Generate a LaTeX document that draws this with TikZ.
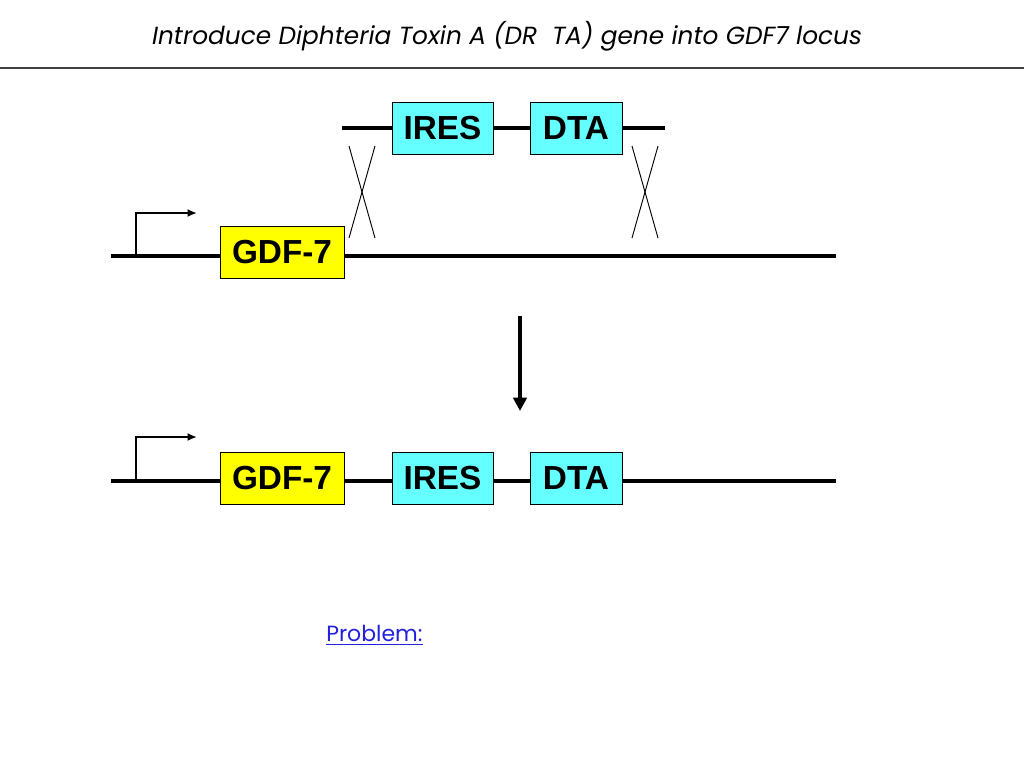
\documentclass[tikz,border=0pt]{standalone}
\usepackage{fontspec}
\setmainfont{Liberation Sans}
\newfontfamily\titlefont{Poppins}
\usetikzlibrary{arrows.meta}
\definecolor{boxcyan}{HTML}{66FFFF}
\definecolor{boxyellow}{HTML}{FFFF00}
\definecolor{linkblue}{HTML}{2222DD}
\tikzset{
  gene/.style={draw=black, line width=0.75pt, inner sep=0pt, minimum height=39pt,
    font=\fontsize{25}{25}\selectfont\bfseries},
  backbone/.style={line width=3pt},
  crossline/.style={line width=0.7pt},
  promoter/.style={line width=1.5pt, -{Latex[length=7pt,width=6pt]}},
}
\begin{document}
\begin{tikzpicture}[x=0.75pt,y=-0.75pt]
\useasboundingbox (0,0) rectangle (1024,768);
% title
\node[font=\titlefont\itshape\fontsize{18.6}{18.6}\selectfont, anchor=center] (title) at (507,36) {Introduce Diphteria Toxin A (DR\ \ TA) gene into GDF7 locus};
\coordinate (rl) at (0,68); \coordinate (rr) at (1024,68);
\draw[line width=1.2pt, black!75] (rl) -- (rr);
% top construct
\node[gene, fill=boxcyan, minimum width=75.75pt] (ires1) at (442.5,128.5) {IRES};
\node[gene, fill=boxcyan, minimum width=69pt] (dta1) at (576,128.5) {DTA};
\coordinate (t1) at (342,128); \coordinate (t2) at (665,128);
\draw[backbone] (t1) -- (t1 -| ires1.west);
\draw[backbone] (t1 -| ires1.east) -- (t1 -| dta1.west);
\draw[backbone] (t1 -| dta1.east) -- (t2);
% crosses
\coordinate (xa1) at (349,146); \coordinate (xa2) at (375,238);
\coordinate (xa3) at (375,146); \coordinate (xa4) at (349,238);
\draw[crossline] (xa1) -- (xa2); \draw[crossline] (xa3) -- (xa4);
\coordinate (xb1) at (632,146); \coordinate (xb2) at (658,238);
\coordinate (xb3) at (658,146); \coordinate (xb4) at (632,238);
\draw[crossline] (xb1) -- (xb2); \draw[crossline] (xb3) -- (xb4);
% middle locus
\node[gene, fill=boxyellow, minimum width=93pt] (gdf1) at (282,252) {GDF-7};
\coordinate (m1) at (111,256); \coordinate (m2) at (836,256);
\draw[backbone] (m1) -- (m1 -| gdf1.west);
\draw[backbone] (m1 -| gdf1.east) -- (m2);
\coordinate (p1a) at (136,256); \coordinate (p1b) at (136,213); \coordinate (p1c) at (197,213);
\draw[promoter] (p1a) -- (p1b) -- (p1c);
% down arrow
\coordinate (d1) at (520,316); \coordinate (d2) at (520,411);
\draw[line width=3pt, -{Triangle[length=10pt,width=10pt]}] (d1) -- (d2);
% bottom locus
\node[gene, fill=boxyellow, minimum width=93pt] (gdf2) at (282,478) {GDF-7};
\node[gene, fill=boxcyan, minimum width=75.75pt] (ires2) at (442.5,478) {IRES};
\node[gene, fill=boxcyan, minimum width=69pt] (dta2) at (576,478) {DTA};
\coordinate (b1) at (111,481); \coordinate (b2) at (836,481);
\draw[backbone] (b1) -- (b1 -| gdf2.west);
\draw[backbone] (b1 -| gdf2.east) -- (b1 -| ires2.west);
\draw[backbone] (b1 -| ires2.east) -- (b1 -| dta2.west);
\draw[backbone] (b1 -| dta2.east) -- (b2);
\coordinate (p2a) at (136,481); \coordinate (p2b) at (136,437); \coordinate (p2c) at (197,437);
\draw[promoter] (p2a) -- (p2b) -- (p2c);
% problem link
\node[font=\titlefont\fontsize{16.5}{16.5}\selectfont, text=linkblue, anchor=west, inner sep=0pt] (prob) at (326,635) {\underline{Problem:}};
\end{tikzpicture}
\end{document}
